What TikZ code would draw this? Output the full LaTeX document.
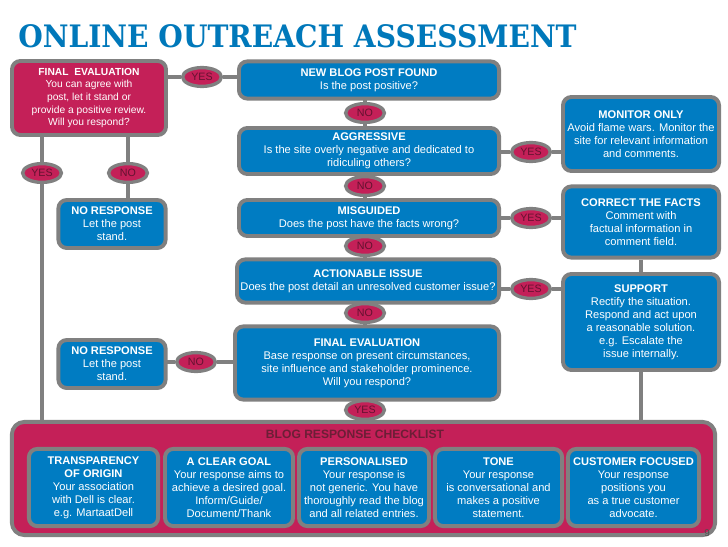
\documentclass[tikz,border=0pt]{standalone}
\usepackage{fontspec}
\setmainfont{Liberation Sans}
\newfontfamily\titlefont{DejaVu Serif}
\usetikzlibrary{shapes.geometric,backgrounds}
\definecolor{OAblue}{RGB}{0,124,194}
\definecolor{OAcrimson}{RGB}{196,32,88}
\definecolor{OAdeep}{RGB}{100,18,48}
\definecolor{OAdark}{RGB}{108,30,54}
\definecolor{OAgray}{RGB}{128,128,128}
\definecolor{OAtitle}{RGB}{0,120,186}
\tikzset{
  box/.style={rounded corners=6pt,draw=OAgray,line width=2.8pt,align=center,
              inner sep=2pt,text=white,font=\fontsize{7.9}{9.3}\selectfont},
  bluebox/.style={box,fill=OAblue},
  redbox/.style={box,fill=OAcrimson},
  answer/.style={ellipse,draw=OAgray,line width=2.4pt,fill=OAcrimson,text=OAdeep,
                 inner sep=0pt,minimum width=0.97cm,minimum height=0.47cm,
                 font=\fontsize{7.6}{8}\selectfont},
  link/.style={draw=OAgray,line width=2.8pt}
}

\begin{document}
\begin{tikzpicture}[x=0.025cm,y=-0.025cm]
  \useasboundingbox (0,0) rectangle (728,546);
  \node[anchor=base west,inner sep=0pt,text=OAtitle,font=\titlefont\bfseries\fontsize{22}{24}\selectfont]
       (title) at (18,47) {\scalebox{0.91}[1]{ONLINE OUTREACH ASSESSMENT}};

  % left column
  \node[redbox,minimum width=3.85cm,minimum height=1.85cm,font=\fontsize{7.3}{9}\selectfont] (fe1) at (89,98)
       {\textbf{FINAL\ \ EVALUATION}\\You can agree with\\post, let it stand or\\provide a positive review.\\Will you respond?};
  \node[bluebox,minimum width=2.68cm,minimum height=1.2cm] (noresp1) at (112,224)
       {\textbf{NO RESPONSE}\\Let the post\\stand.};
  \node[bluebox,minimum width=2.68cm,minimum height=1.2cm] (noresp2) at (112,364)
       {\textbf{NO RESPONSE}\\Let the post\\stand.};

  % middle column
  \node[bluebox,minimum width=6.5cm,minimum height=0.93cm] (newpost) at (369,80)
       {\textbf{NEW BLOG POST FOUND}\\Is the post positive?};
  \node[bluebox,minimum width=6.5cm,minimum height=1.15cm] (aggr) at (369,151)
       {\textbf{AGGRESSIVE}\\Is the site overly negative and dedicated to\\ridiculing others?};
  \node[bluebox,minimum width=6.5cm,minimum height=0.9cm] (misg) at (369,218)
       {\textbf{MISGUIDED}\\Does the post have the facts wrong?};
  \node[bluebox,minimum width=6.55cm,minimum height=1.08cm] (action) at (368,281)
       {\textbf{ACTIONABLE ISSUE}\\Does the post detail an unresolved customer issue?};
  \node[bluebox,minimum width=6.6cm,minimum height=1.83cm] (final) at (367,363)
       {\textbf{FINAL EVALUATION}\\Base response on present circumstances,\\site influence and stakeholder prominence.\\Will you respond?};

  % right column
  \node[bluebox,minimum width=3.9cm,minimum height=1.85cm] (monitor) at (641,134)
       {\textbf{MONITOR ONLY}\\Avoid flame wars. Monitor the\\site for relevant information\\and comments.};
  \node[bluebox,minimum width=3.9cm,minimum height=1.78cm] (correct) at (641,222)
       {\textbf{CORRECT THE FACTS}\\Comment with\\factual information in\\comment field.};
  \node[bluebox,minimum width=3.9cm,minimum height=2.4cm] (support) at (641,322)
       {\textbf{SUPPORT}\\Rectify the situation.\\Respond and act upon\\a reasonable solution.\\e.g. Escalate the\\issue internally.};

  % checklist
  \node[redbox,rounded corners=9pt,minimum width=17.58cm,minimum height=2.83cm] (checklist) at (363.5,478.5) {};
  \node[font=\bfseries\fontsize{8.6}{9}\selectfont,text=OAdark] (cktitle) at (355,434) {BLOG RESPONSE CHECKLIST};
  \node[bluebox,minimum width=3.23cm,minimum height=1.93cm] (transp) at (93.5,487.5)
       {\textbf{TRANSPARENCY}\\\textbf{OF ORIGIN}\\Your association\\with Dell is clear.\\e.g. MartaatDell};
  \node[bluebox,minimum width=3.2cm,minimum height=1.93cm] (goal) at (229,487.5)
       {\textbf{A CLEAR GOAL}\\Your response aims to\\achieve a desired goal.\\Inform/Guide/\\Document/Thank};
  \node[bluebox,minimum width=3.25cm,minimum height=1.93cm] (person) at (364,487.5)
       {\textbf{PERSONALISED}\\Your response is\\not generic. You have\\thoroughly read the blog\\and all related entries.};
  \node[bluebox,minimum width=3.18cm,minimum height=1.93cm] (tone) at (498.5,487.5)
       {\textbf{TONE}\\Your response\\is conversational and\\makes a positive\\statement.};
  \node[bluebox,minimum width=3.28cm,minimum height=1.93cm] (custom) at (633.5,487.5)
       {\textbf{CUSTOMER FOCUSED}\\Your response\\positions you\\as a true customer\\advocate.};
  \node[font=\fontsize{7}{8}\selectfont,text=OAgray!60!black,inner sep=0pt] (pagenum) at (707,533) {9};

  % answers
  \node[answer] (yes1) at (202,77) {YES};
  \node[answer] (no1) at (365,113) {NO};
  \node[answer] (yes2) at (531,152) {YES};
  \node[answer] (no2) at (365,186) {NO};
  \node[answer] (yesL) at (42,173) {YES};
  \node[answer] (noL) at (128,173) {NO};
  \node[answer] (yes3) at (531,218) {YES};
  \node[answer] (no3) at (365,246) {NO};
  \node[answer] (yes4) at (531,289) {YES};
  \node[answer] (no4) at (365,313) {NO};
  \node[answer] (no5) at (196,362) {NO};
  \node[answer] (yes5) at (365,410) {YES};

  \begin{scope}[on background layer]
    \draw[link] (yes1 -| fe1) -- (yes1) -- (yes1 -| newpost);
    \draw[link] (no1 |- newpost) -- (no1) -- (no1 |- aggr);
    \draw[link] (yes2 -| aggr) -- (yes2) -- (yes2 -| monitor);
    \draw[link] (no2 |- aggr) -- (no2) -- (no2 |- misg);
    \draw[link] (yes3 -| misg) -- (yes3) -- (yes3 -| correct);
    \draw[link] (no3 |- misg) -- (no3) -- (no3 |- action);
    \draw[link] (yes4 -| action) -- (yes4) -- (yes4 -| support);
    \draw[link] (no4 |- action) -- (no4) -- (no4 |- final);
    \draw[link] (yes5 |- final) -- (yes5) -- (yes5 |- checklist);
    \draw[link] (no5 -| noresp2) -- (no5) -- (no5 -| final);
    \draw[link] (yesL |- fe1) -- (yesL) -- (yesL |- checklist);
    \draw[link] (noL |- fe1) -- (noL) -- (noL |- noresp1);
    \draw[link] (correct) -- (correct |- support);
    \draw[link] (support) -- (support |- checklist);
  \end{scope}
\end{tikzpicture}
\end{document}
